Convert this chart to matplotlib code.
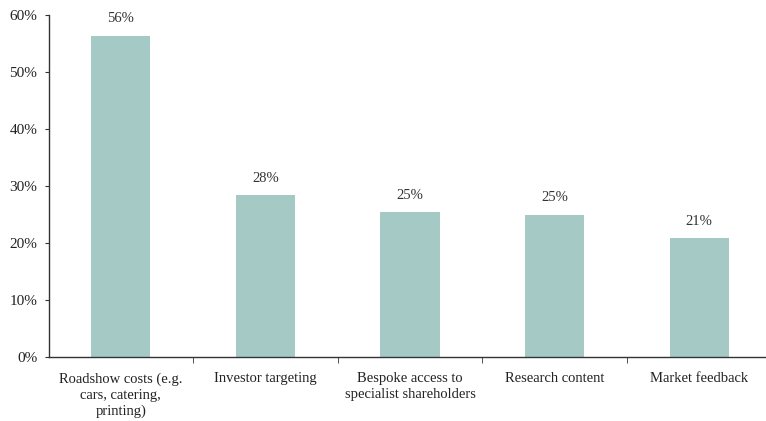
import matplotlib
matplotlib.use("Agg")
import matplotlib.pyplot as plt
import numpy as np
from matplotlib.ticker import FuncFormatter, FixedLocator

categories = ["Roadshow costs (e.g.\ncars, catering,\nprinting)", "Investor targeting",
              "Bespoke access to\nspecialist shareholders", "Research content", "Market feedback"]
values = [56.4, 28.4, 25.4, 25.0, 20.8]
labels = ["56%", "28%", "25%", "25%", "21%"]
yticks = [0, 10, 20, 30, 40, 50, 60]

plt.rcParams['font.family'] = ['Liberation Serif', 'DejaVu Serif']
fig = plt.figure(figsize=(7.66, 4.21), dpi=100)
ax = fig.add_axes([48.5/766, 1-357/421, 723/766, 342/421])

x = np.arange(len(categories))
bars = ax.bar(x, values, width=0.41, color="#a5cac6")
for xi, v, lab in zip(x, values, labels):
    ax.text(xi, v + 1.8, lab, ha="center", va="bottom", fontsize=10.5, color="#333333")

ax.set_xlim(-0.5, len(categories) - 0.5)
ax.set_ylim(0, 60)
ax.set_yticks(yticks)
ax.yaxis.set_major_formatter(FuncFormatter(lambda v, p: f"{int(v)}%"))
ax.set_xticks(x)
ax.set_xticklabels(categories, fontsize=10.5, color="#222222", linespacing=1.3)
ax.tick_params(axis="x", length=0, pad=11)
ax.xaxis.set_minor_locator(FixedLocator(np.arange(0.5, len(categories) - 0.5, 1)))
ax.tick_params(axis="x", which="minor", length=4, color="#333333", direction="out")
ax.tick_params(axis="y", length=3, color="#333333", labelsize=11, labelcolor="#222222", pad=5)
for s in ["top", "right"]:
    ax.spines[s].set_visible(False)
for s in ["left", "bottom"]:
    ax.spines[s].set_color("#333333")
    ax.spines[s].set_linewidth(1.0)

fig.savefig("out.png", dpi=100)
